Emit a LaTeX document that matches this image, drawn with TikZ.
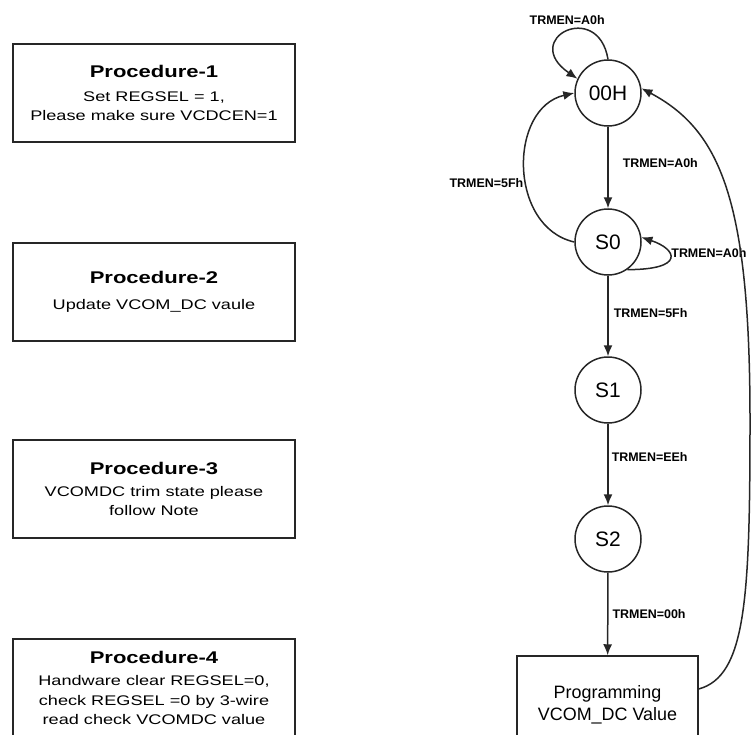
\documentclass[tikz,border=0pt]{standalone}
\usepackage{fontspec}
\setmainfont{Liberation Sans}
\newfontfamily\procfont{Liberation Sans}[FakeStretch=1.3]
\usetikzlibrary{arrows.meta}
\definecolor{boxgray}{HTML}{262626}
\newcommand{\proctitle}[1]{{\bfseries\fontsize{17}{20}\selectfont #1}}

\begin{document}
\begin{tikzpicture}[x=1bp,y=-1bp,
  procbox/.style={draw=boxgray,line width=1.8bp,minimum width=282bp,minimum height=98bp,align=center,font=\procfont\fontsize{14}{20}\selectfont},
  progbox/.style={draw=boxgray,line width=1.5bp,minimum width=181bp,minimum height=98bp,align=center,font=\fontsize{18}{22}\selectfont},
  stnode/.style={draw=boxgray,circle,line width=1.5bp,minimum size=66bp,inner sep=0pt,font=\fontsize{21}{24}\selectfont},
  trans/.style={boxgray,line width=1.5bp,-{Latex[length=11bp,width=9bp]}},
  cond/.style={black,font=\bfseries\fontsize{12.5}{14}\selectfont,inner sep=1bp}]
  \useasboundingbox (0,0) rectangle (751,735);

  \node[procbox] (proc1) at (154,93) {\proctitle{Procedure-1}\\[4bp] Set REGSEL = 1,\\ Please make sure VCDCEN=1};
  \node[procbox] (proc2) at (154,292) {\proctitle{Procedure-2}\\[6bp] Update VCOM\_DC vaule};
  \node[procbox] (proc3) at (154,489) {\proctitle{Procedure-3}\\[2bp] VCOMDC trim state please\\ follow Note};
  \node[procbox] (proc4) at (154,688) {\proctitle{Procedure-4}\\[2bp] Handware clear REGSEL=0,\\ check REGSEL =0 by 3-wire\\ read check VCOMDC value};

  \node[stnode] (s00) at (608,93) {00H};
  \node[stnode] (s0) at (608,242) {S0};
  \node[stnode] (s1) at (608,390) {S1};
  \node[stnode] (s2) at (608,539) {S2};
  \node[progbox] (prog) at (607.5,705) {Programming\\VCOM\_DC Value};
  \coordinate (bend) at (750,420);

  \draw[trans] (s00) -- node[cond,right=13bp,pos=0.45] {TRMEN=A0h} (s0);
  \draw[trans] (s0) -- node[cond,right=4bp,pos=0.46] {TRMEN=5Fh} (s1);
  \draw[trans] (s1) -- node[cond,right=2bp,pos=0.41] {TRMEN=EEh} (s2);
  \draw[trans] (s2) -- node[cond,right=3bp] {TRMEN=00h} (prog);
  \draw[trans] (s00.north) .. controls +(-10,-60) and +(-58,-40) .. node[cond,above=5bp] {TRMEN=A0h} (s00.155);
  \draw[trans] (s0.west) .. controls +(-66,-15) and +(-66,15) .. node[cond,left=1bp,pos=0.42] {TRMEN=5Fh} (s00.west);
  \draw[trans] (s0.-55) .. controls +(58,0) and +(36,12) .. node[cond,anchor=west,yshift=5bp] {TRMEN=A0h} (s0.8);
  \draw[trans] ([yshift=16bp]prog.east) .. controls +(47,-13) and +(0,180) .. (bend)
    .. controls +(0,-220) and +(79,42) .. (s00.8);
\end{tikzpicture}
\end{document}
